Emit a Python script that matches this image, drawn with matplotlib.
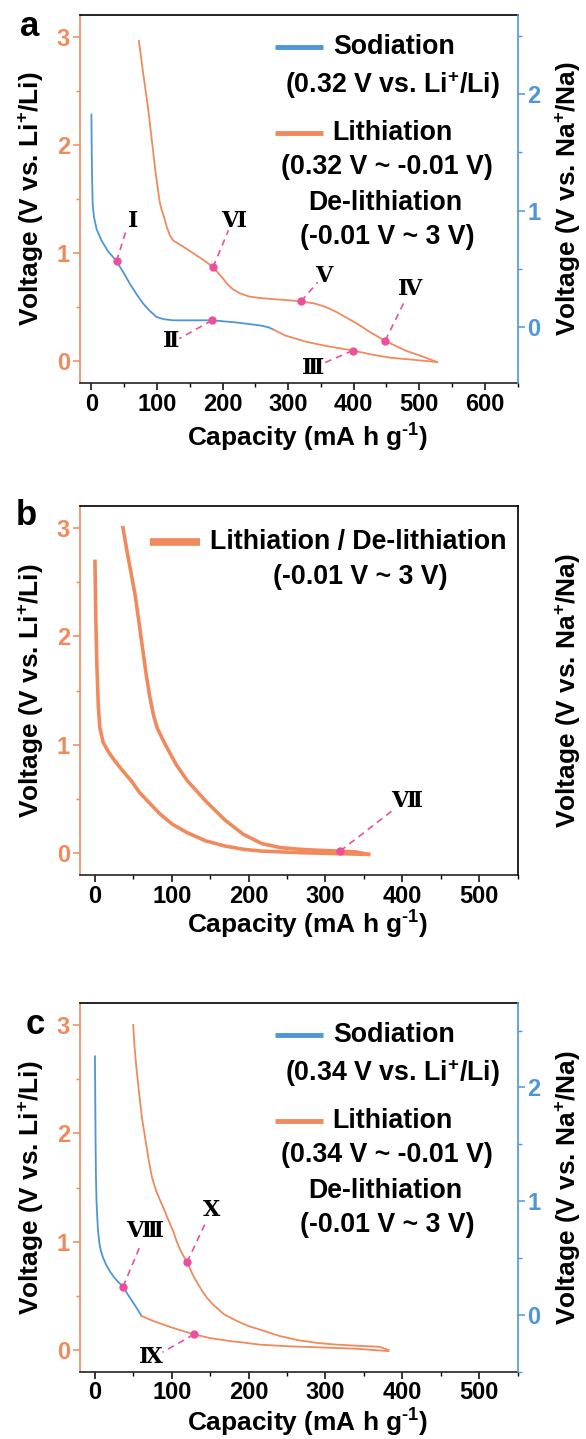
import matplotlib
matplotlib.use('Agg')
import matplotlib.pyplot as plt
from matplotlib import font_manager as fm
from matplotlib.lines import Line2D
from matplotlib.ticker import MultipleLocator

# ---------------- data ----------------
# Panel a  (capacity mA h g-1, voltage V vs Li+/Li)
a_sod_cap = [0, 0.5, 1, 2, 4, 8, 15.4, 25, 38.3, 50, 58.6, 70, 79, 90, 99.4, 110, 124.7, 150, 184, 220, 257, 270, 277]
a_sod_v = [2.28, 1.95, 1.7, 1.45, 1.33, 1.22, 1.117, 1.02, 0.926, 0.81, 0.717, 0.61, 0.533, 0.46, 0.41, 0.39, 0.379, 0.379, 0.379, 0.36, 0.332, 0.315, 0.295]
a_lith_cap = [277, 295, 328, 360, 398.6, 430, 455.6, 490, 527]
a_lith_v = [0.295, 0.24, 0.18, 0.14, 0.10, 0.06, 0.034, 0.015, -0.006]
a_delith_cap = [527, 505, 481, 465, 448, 425, 404.7, 390, 374, 362, 353.7, 340, 319.7, 300, 277, 257, 240, 226, 216, 208,
                201, 185.6, 170, 155, 140, 124.7, 120, 115, 111, 107, 104, 100.5, 97, 94, 91, 88, 85.6, 82, 78.5, 75.5, 72.4]
a_delith_v = [-0.006, 0.045, 0.095, 0.14, 0.19, 0.27, 0.35, 0.40, 0.455, 0.49, 0.51, 0.535, 0.554, 0.565, 0.575, 0.585, 0.60, 0.63, 0.665, 0.71,
              0.763, 0.871, 0.94, 1.0, 1.06, 1.117, 1.16, 1.24, 1.33, 1.40, 1.48, 1.63, 1.79, 1.95, 2.10, 2.26, 2.38, 2.53, 2.68, 2.82, 2.96]
a_mark_names = ['Ⅰ', 'Ⅱ', 'Ⅲ', 'Ⅳ', 'Ⅴ', 'Ⅵ']
a_mark_cap = [38.3, 184, 398.6, 448, 319.7, 185.6]
a_mark_v = [0.926, 0.379, 0.10, 0.19, 0.554, 0.871]

# Panel b
b_lith_cap = [0, 1, 2.4, 4.4, 6.3, 10.7, 18, 26, 35, 47, 58, 71.4, 85, 100.6, 120, 144.3, 168.6, 193, 217, 266, 310, 356]
b_lith_v = [2.69, 2.21, 1.75, 1.35, 1.16, 1.02, 0.93, 0.85, 0.77, 0.67, 0.56, 0.46, 0.36, 0.268, 0.19, 0.114, 0.068, 0.037, 0.02, 0.006, -0.002, -0.01]
b_delith_cap = [356, 340, 319, 290, 266, 241.5, 217, 193, 168.6, 144.3, 120, 105.5, 90.9, 81.2, 76.3, 71.4, 66.6, 61.7, 56.9, 52, 48.1, 42.3, 36.4]
b_delith_v = [-0.01, 0.012, 0.02, 0.028, 0.037, 0.052, 0.09, 0.175, 0.31, 0.48, 0.67, 0.82, 1.01, 1.15, 1.27, 1.44, 1.65, 1.90, 2.15, 2.39, 2.54, 2.76, 3.0]
b_mark_names = ['Ⅶ']
b_mark_cap = [319]
b_mark_v = [0.02]

# Panel c
c_sod_cap = [0, 0.4, 0.8, 1.3, 2, 3, 4, 5.5, 7.5, 10.4, 15, 20, 25, 30, 36.5, 43, 49.5, 55, 60.4]
c_sod_v = [2.71, 2.3, 1.9, 1.6, 1.38, 1.22, 1.10, 1.0, 0.92, 0.855, 0.78, 0.72, 0.67, 0.63, 0.585, 0.51, 0.44, 0.38, 0.315]
c_lith_cap = [60.4, 75, 95, 110, 129, 150, 175, 192, 214, 250, 290, 340, 382]
c_lith_v = [0.315, 0.27, 0.22, 0.185, 0.145, 0.11, 0.083, 0.07, 0.05, 0.035, 0.025, 0.012, -0.01]
c_delith_cap = [382, 370, 340, 314, 290, 265, 240, 214, 200, 184, 168, 153.6, 146, 140, 134, 127.6, 124, 119.8, 115, 110, 106,
                101.6, 95, 88.5, 80, 74, 70, 65.5, 61, 57, 54, 51.5, 49.7]
c_delith_v = [0.0, 0.03, 0.04, 0.05, 0.065, 0.09, 0.13, 0.19, 0.22, 0.27, 0.33, 0.42, 0.48, 0.54, 0.61, 0.69, 0.745, 0.81, 0.87, 0.94, 1.01,
              1.10, 1.21, 1.32, 1.46, 1.6, 1.75, 1.95, 2.15, 2.4, 2.6, 2.8, 3.0]
c_mark_names = ['Ⅷ', 'Ⅸ', 'Ⅹ']
c_mark_cap = [36.5, 129, 119.8]
c_mark_v = [0.585, 0.145, 0.81]

# ---------------- style ----------------
ORANGE = '#F08A5D'
BLUE = '#4E96D8'
PINK = '#EC4F9C'
W, H = 586, 1439


def has_font(name):
    try:
        fm.findfont(fm.FontProperties(family=name), fallback_to_default=False)
        return True
    except Exception:
        return False


if has_font('Liberation Sans Narrow'):
    NARROW = 'Liberation Sans Narrow'
    k = 1.0
else:
    NARROW = 'Liberation Sans'
    k = 0.82

plt.rcParams['font.family'] = [NARROW, 'DejaVu Sans']
plt.rcParams['font.weight'] = 'bold'
plt.rcParams['mathtext.fontset'] = 'custom'
plt.rcParams['mathtext.rm'] = NARROW + ':bold'
plt.rcParams['mathtext.bf'] = NARROW + ':bold'
plt.rcParams['mathtext.it'] = NARROW + ':bold'
plt.rcParams['mathtext.default'] = 'rm'

FS_LAB = 23 * k
FS_TICK = 17.5 * k / 0.82 if k == 1.0 else 17
FS_LEG = 23.5 * k
ROMAN = dict(family=['DejaVu Serif', 'DejaVu Sans'], fontweight='bold', fontsize=16)

fig = plt.figure(figsize=(W / 100, H / 100), dpi=100)


def fx(x):
    return x / W


def fy(y):
    return 1 - y / H


def make_axes(top, bottom, xmax_tick, xlim, right_lim, right_color, right_ticks):
    left, right = 79.6, 517.6
    ax = fig.add_axes([fx(left), fy(bottom), (right - left) / W, (bottom - top) / H])
    ax.set_xlim(*xlim)
    ax.set_ylim(-0.2, 3.2)
    ax.xaxis.set_major_locator(MultipleLocator(100))
    ax.xaxis.set_minor_locator(MultipleLocator(50))
    ax.yaxis.set_major_locator(MultipleLocator(1))
    ax.yaxis.set_minor_locator(MultipleLocator(0.5))
    ax.set_xticks(list(range(0, xmax_tick + 1, 100)))
    ax.tick_params(axis='x', which='both', direction='out', colors='black', labelsize=FS_TICK, pad=2)
    ax.tick_params(axis='x', which='major', length=5, width=1.1)
    ax.tick_params(axis='x', which='minor', length=3, width=1.0)
    ax.tick_params(axis='y', which='both', direction='out', colors=ORANGE, labelsize=FS_TICK, pad=2)
    ax.tick_params(axis='y', which='major', length=5, width=1.1)
    ax.tick_params(axis='y', which='minor', length=3, width=1.0)
    for lab in ax.get_xticklabels() + ax.get_yticklabels():
        lab.set_fontweight('bold')
    ax.spines['left'].set_color(ORANGE)
    ax.spines['right'].set_visible(False)
    ax.spines['top'].set_color('black')
    ax.spines['bottom'].set_color('#222222')
    for s in ax.spines.values():
        s.set_linewidth(1.2)

    tw = ax.twinx()
    tw.set_ylim(*right_lim)
    for s in ['left', 'top', 'bottom']:
        tw.spines[s].set_visible(False)
    tw.spines['right'].set_color(right_color)
    tw.spines['right'].set_linewidth(1.2)
    if right_ticks:
        tw.yaxis.set_major_locator(MultipleLocator(1))
        tw.yaxis.set_minor_locator(MultipleLocator(0.5))
        tw.tick_params(axis='y', which='both', direction='out', colors=BLUE, labelsize=FS_TICK, pad=2)
        tw.tick_params(axis='y', which='major', length=5, width=1.1)
        tw.tick_params(axis='y', which='minor', length=3, width=1.0)
        for lab in tw.get_yticklabels():
            lab.set_fontweight('bold')
    else:
        tw.tick_params(axis='y', which='both', right=False, labelright=False)

    ax.set_xlabel(r'Capacity (mA h g$^{‐1}$)', fontsize=FS_LAB, fontweight='bold')
    ax.set_ylabel(r'Voltage (V vs. Li$^{+}$/Li)', fontsize=FS_LAB, fontweight='bold')
    tw.set_ylabel(r'Voltage (V vs. Na$^{+}$/Na)', fontsize=FS_LAB, fontweight='bold')
    return ax, tw


def place_labels(ax, tw, top, bottom, xoff):
    left, right = 79.6, 517.6
    wpx, hpx = right - left, bottom - top
    ax.xaxis.label.set_va('center')
    ax.xaxis.set_label_coords((308 - left) / wpx, -xoff / hpx)
    ax.yaxis.label.set_va('center')
    ax.yaxis.set_label_coords((31 - left) / wpx, 0.5)
    tw.yaxis.label.set_va('center')
    tw.yaxis.label.set_rotation(90)
    tw.yaxis.set_label_coords((568 - left) / wpx, 0.5)


def annotate(ax, x, y, name, lx, ly, ex, ey):
    ax.plot([x, ex], [y, ey], color=PINK, lw=1.2, ls=(0, (4, 3)), zorder=4)
    ax.plot([x], [y], 'o', color=PINK, ms=5, zorder=5)
    ax.text(lx, ly, name, ha='center', va='center', color='black', zorder=6, **ROMAN)


def legend_line(x1, x2, y, color, lw):
    fig.add_artist(Line2D([fx(x1), fx(x2)], [fy(y), fy(y)], transform=fig.transFigure,
                          color=color, lw=lw, solid_capstyle='butt'))


def ftext(x, y, s, ha='center', size=None):
    fig.text(fx(x), fy(y), s, ha=ha, va='center', fontsize=size or FS_LEG, fontweight='bold')


# ---------------- panel a ----------------
topA, botA = 15, 383
axA, twA = make_axes(topA, botA, 600, (-18, 650), (-0.48, 2.68), BLUE, True)
place_labels(axA, twA, topA, botA, 55)
axA.plot(a_sod_cap, a_sod_v, color=BLUE, lw=1.3, zorder=3)
axA.plot(a_lith_cap, a_lith_v, color=ORANGE, lw=1.3, zorder=3)
axA.plot(a_delith_cap, a_delith_v, color=ORANGE, lw=1.3, zorder=3)
a_lab = {'Ⅰ': (63, 1.30, 54, 1.23), 'Ⅱ': (122, 0.19, 134, 0.21), 'Ⅲ': (338, -0.06, 353, -0.02),
         'Ⅳ': (486, 0.67, 478, 0.56), 'Ⅴ': (354, 0.79, 345, 0.73), 'Ⅵ': (217, 1.30, 209, 1.21)}
for n, x, y in zip(a_mark_names, a_mark_cap, a_mark_v):
    annotate(axA, x, y, n, *a_lab[n])

fig.text(fx(30), fy(27), 'a', ha='center', va='center', fontsize=25,
         fontweight='bold', family='Liberation Sans')


def two_series_legend(top, v1, v2):
    legend_line(274.7, 323, top + 32, BLUE, 3.5)
    ftext(333.5, top + 32, 'Sodiation', ha='left')
    ftext(392, top + 70, r'(%s V vs. Li$^{+}$/Li)' % v1)
    legend_line(274.7, 323, top + 118, ORANGE, 3.5)
    ftext(332.5, top + 118, 'Lithiation', ha='left')
    ftext(387, top + 152, '(%s V ~ -0.01 V)' % v2)
    ftext(385, top + 188, 'De-lithiation')
    ftext(387, top + 222, '(-0.01 V ~ 3 V)')


two_series_legend(topA, '0.32', '0.32')

# ---------------- panel b ----------------
topB, botB = 506, 875
axB, twB = make_axes(topB, botB, 500, (-20, 550), (-0.48, 2.68), 'black', False)
place_labels(axB, twB, topB, botB, 50)
axB.plot(b_lith_cap, b_lith_v, color=ORANGE, lw=2.6, zorder=3)
axB.plot(b_delith_cap, b_delith_v, color=ORANGE, lw=2.6, zorder=3)
for n, x, y in zip(b_mark_names, b_mark_cap, b_mark_v):
    annotate(axB, x, y, n, 406, 0.48, 390, 0.41)
fig.text(fx(26), fy(515), 'b', ha='center', va='center', fontsize=25,
         fontweight='bold', family='Liberation Sans')
legend_line(149.5, 200, 542, ORANGE, 5.5)
ftext(210.5, 542, 'Lithiation / De-lithiation', ha='left')
ftext(360, 577, '(-0.01 V ~ 3 V)')

# ---------------- panel c ----------------
topC, botC = 1003.3, 1371.7
axC, twC = make_axes(topC, botC, 500, (-20, 550), (-0.5, 2.74), BLUE, True)
place_labels(axC, twC, topC, botC, 51)
axC.plot(c_sod_cap, c_sod_v, color=BLUE, lw=1.3, zorder=3)
axC.plot(c_lith_cap, c_lith_v, color=ORANGE, lw=1.3, zorder=3)
axC.plot(c_delith_cap, c_delith_v, color=ORANGE, lw=1.3, zorder=3)
c_lab = {'Ⅷ': (65, 1.10, 60, 0.98), 'Ⅸ': (73, -0.06, 88, -0.02), 'Ⅹ': (152, 1.29, 143, 1.16)}
for n, x, y in zip(c_mark_names, c_mark_cap, c_mark_v):
    annotate(axC, x, y, n, *c_lab[n])
fig.text(fx(35), fy(1024), 'c', ha='center', va='center', fontsize=25,
         fontweight='bold', family='Liberation Sans')
two_series_legend(topC, '0.34', '0.34')

fig.savefig('out.png', dpi=100)
